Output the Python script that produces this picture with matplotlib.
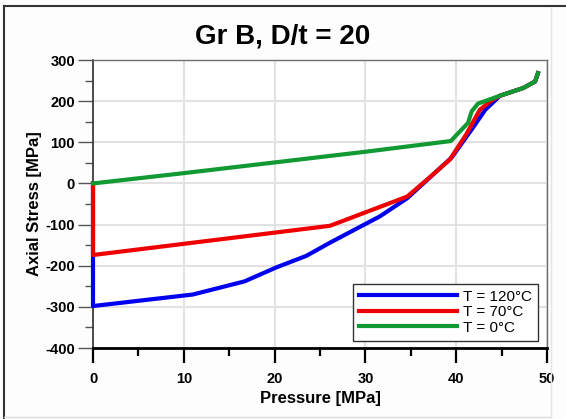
import matplotlib
matplotlib.use("Agg")
import matplotlib.pyplot as plt
from matplotlib.lines import Line2D
from matplotlib.ticker import MultipleLocator

plt.rcParams['font.family'] = ['Liberation Sans', 'DejaVu Sans']
plt.rcParams['axes.unicode_minus'] = False

# pressure [MPa] vs axial stress [MPa] for three temperatures
p_120 = [0, 0, 11.0, 16.7, 20.2, 23.5, 26.1, 31.6, 34.6, 39.5, 41.7, 43.2, 44.3, 44.8, 47.4, 48.7, 49.0]
s_120 = [0, -298, -270, -238, -204, -176, -144, -80, -36, 63, 131, 179, 202, 213, 232, 248, 268]

p_70 = [0, 0, 26.1, 31.6, 34.6, 37.2, 39.3, 41.1, 42.6, 43.9, 44.8, 47.4, 48.7, 49.0]
s_70 = [0, -174, -103, -57, -32, 17, 58, 119, 179, 202, 213, 232, 248, 268]

p_0 = [0, 10, 20, 30, 39.4, 41.3, 41.7, 42.4, 44.8, 47.4, 48.7, 49.0]
s_0 = [0, 25, 51, 77, 103, 147, 175, 194, 213, 232, 248, 268]

labels = ['T = 120°C', 'T = 70°C', 'T = 0°C']
colors = ['#0000ee', '#ee0000', '#119933']

fig = plt.figure(figsize=(5.66, 4.19), dpi=100, facecolor='#fdfdfd')
ax = fig.add_axes([93/566, 1 - 348/419, 454/566, 288/419])

for p, s, lab, c in zip([p_120, p_70, p_0], [s_120, s_70, s_0], labels, colors):
    ax.plot(p, s, color=c, lw=3, label=lab, solid_joinstyle='round',
            clip_on=False, zorder=3)

ax.set_xlim(0, 50)
ax.set_ylim(-400, 300)
ax.xaxis.set_major_locator(MultipleLocator(10))
ax.xaxis.set_minor_locator(MultipleLocator(5))
ax.yaxis.set_major_locator(MultipleLocator(100))
ax.yaxis.set_minor_locator(MultipleLocator(50))

ax.grid(True, which='major', color='#e2e2e2', lw=1.5)
ax.set_axisbelow(True)

for side in ['top', 'right']:
    ax.spines[side].set_color('#707070')
    ax.spines[side].set_linewidth(1.0)
ax.spines['left'].set_color('#303030')
ax.spines['left'].set_linewidth(1.2)
ax.spines['bottom'].set_color('black')
ax.spines['bottom'].set_linewidth(2.0)

ax.tick_params(axis='x', which='major', length=11, width=1.6, color='black', pad=6)
ax.tick_params(axis='x', which='minor', length=6, width=1.6, color='black')
ax.tick_params(axis='y', which='major', length=11, width=1.0, color='#555555', pad=2)
ax.tick_params(axis='y', which='minor', length=6, width=1.0, color='#555555')
for t in ax.get_xticklabels() + ax.get_yticklabels():
    t.set_fontweight('bold')
    t.set_fontsize(10.5)

ax.set_xlabel('Pressure [MPa]', fontsize=12, fontweight='bold', labelpad=4)
ax.set_ylabel('Axial Stress [MPa]', fontsize=12, fontweight='bold', labelpad=2)
fig.text(0.5, 1 - 37/419, 'Gr B, D/t = 20', ha='center', va='center',
         fontsize=20, fontweight='bold')

leg = ax.legend(loc='lower right', bbox_to_anchor=(0.98, 0.025), fontsize=11,
                handlelength=6.4, labelspacing=0.1, handletextpad=0.4,
                fancybox=False, framealpha=1, borderpad=0.4, borderaxespad=0)
leg.get_frame().set_edgecolor('#333333')
leg.get_frame().set_linewidth(1.0)
leg.set_zorder(4)

# panel frame
fig.add_artist(Line2D([4/566, 1], [1 - 6/419] * 2, color='#333333', lw=1.5))
fig.add_artist(Line2D([4/566] * 2, [0, 1 - 6/419], color='#333333', lw=1.5))
fig.add_artist(Line2D([4/566, 551/566], [2/419] * 2, color='#dddddd', lw=1.0))
fig.add_artist(Line2D([551/566] * 2, [2/419, 1 - 8/419], color='#e4e4e4', lw=1.0))

fig.savefig('out.png', dpi=100, facecolor=fig.get_facecolor())
